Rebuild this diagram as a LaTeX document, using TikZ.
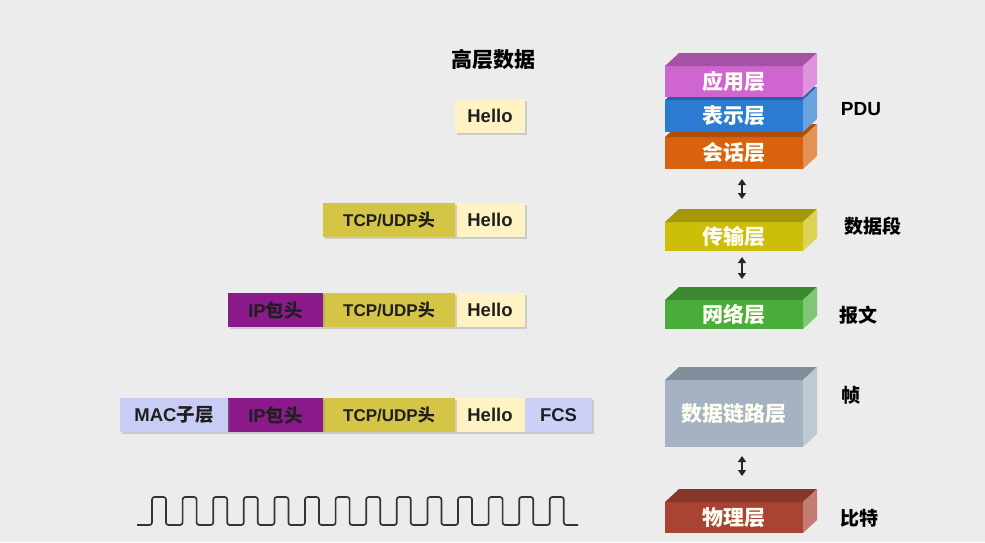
\documentclass[tikz,border=0pt]{standalone}
\usepackage{fontspec}
\setmainfont{Liberation Sans}
\newfontfamily\cjk{Noto Sans CJK SC}
\usetikzlibrary{positioning,arrows.meta,shadows}
\definecolor{bgc}{HTML}{ECECEC}
\definecolor{appc}{HTML}{CF66CF}
\definecolor{prec}{HTML}{2C7BD2}
\definecolor{sesc}{HTML}{D8620E}
\definecolor{trnc}{HTML}{CDBE0A}
\definecolor{netc}{HTML}{4AAD3B}
\definecolor{dllc}{HTML}{A4B2C1}
\definecolor{phyc}{HTML}{A94434}
\definecolor{helc}{HTML}{FFF2C4}
\definecolor{tcpc}{HTML}{D5C547}
\definecolor{ipc}{HTML}{8A1A8A}
\definecolor{macc}{HTML}{C9CCF5}
\definecolor{fcsc}{HTML}{CDD1F8}

\begin{document}
\begin{tikzpicture}[x=1pt, y=-1pt,
  layer/.style={minimum width=138, inner sep=0, outer sep=0, text=white!95!yellow,
    font=\bfseries\fontsize{21}{24}\selectfont\cjk},
  pkt/.style={minimum height=34, inner sep=0, outer sep=0, text=black!88,
    font=\bfseries\fontsize{18.5}{20}\selectfont,
    drop shadow={shadow xshift=1.5pt, shadow yshift=-1.5pt, opacity=.3}},
  tag/.style={font=\bfseries\fontsize{19}{22}\selectfont},
  updn/.style={{Triangle[length=6pt,width=8pt]}-{Triangle[length=6pt,width=8pt]},
    line width=2.2pt, black!85}]
\useasboundingbox (0,0) rectangle (985,542);
\fill[bgc] (0,0) rectangle (985,542);
% layers (drawn bottom of the stack first)
\foreach \n/\y/\h/\c/\t in {ses/153/32/sesc/会话层, pre/116/32/prec/表示层, app/81.5/31/appc/应用层,
                           trn/236.5/29/trnc/传输层, net/314.5/29/netc/网络层,
                           dll/413.5/67/dllc/数据链路层, phy/517.5/31/phyc/物理层} {
  \node[layer, fill=\c, minimum height=\h] (\n) at (734,\y) {\t};
  \fill[\c!80!black] (\n.north west) -- ++(14,-13) -- ++(138,0) -- (\n.north east) -- cycle;
  \fill[\c!70!white] (\n.north east) -- ++(14,-13) -- ++(0,\h) -- (\n.south east) -- cycle;
}
\draw[updn, shorten <=10pt, shorten >=23pt] ([xshift=8pt]ses.south) -- ([xshift=8pt]trn.north);
\draw[updn, shorten <=6pt, shorten >=21pt] ([xshift=8pt]trn.south) -- ([xshift=8pt]net.north);
\draw[updn, shorten <=9pt, shorten >=26pt] ([xshift=8pt]dll.south) -- ([xshift=8pt]phy.north);
% PDU names
\node[tag] (pdu) at (861,109) {PDU};
\node[tag] (seg) at (873,226) {\cjk 数据段};
\node[tag] (pkg) at (858,315) {\cjk 报文};
\node[tag] (frm) at (851,395) {\cjk 帧};
\node[tag] (bit) at (859,518) {\cjk 比特};
% packets
\node[font=\bfseries\fontsize{21}{24}\selectfont\cjk] (top) at (493,60) {高层数据};
\node[pkt, fill=helc, minimum width=70] (h1) at (490,116) {Hello};
\node[pkt, fill=helc, minimum width=70] (h2) at (490,220) {Hello};
\node[pkt, fill=tcpc, minimum width=132, left=0pt of h2, font=\bfseries\fontsize{17}{20}\selectfont] (t2) {TCP/UDP{\cjk 头}};
\node[pkt, fill=helc, minimum width=70] (h3) at (490,310) {Hello};
\node[pkt, fill=tcpc, minimum width=132, left=0pt of h3, font=\bfseries\fontsize{17}{20}\selectfont] (t3) {TCP/UDP{\cjk 头}};
\node[pkt, fill=ipc, minimum width=95, left=0pt of t3] (i3) {IP{\cjk 包头}};
\node[pkt, fill=helc, minimum width=70] (h4) at (490,415) {Hello};
\node[pkt, fill=tcpc, minimum width=132, left=0pt of h4, font=\bfseries\fontsize{17}{20}\selectfont] (t4) {TCP/UDP{\cjk 头}};
\node[pkt, fill=ipc, minimum width=95, left=0pt of t4] (i4) {IP{\cjk 包头}};
\node[pkt, fill=macc, minimum width=108, left=0pt of i4] (m4) {MAC{\cjk 子层}};
\node[pkt, fill=fcsc, minimum width=67, right=0pt of h4] (f4) {FCS};
% bits
\draw[line width=1.7pt, black!80, rounded corners=2.5pt] (137,525)
  \foreach \i in {0,...,13} { -- ({152+30.6*\i},525) -- ++(0,-28) -- ++(14,0) -- ++(0,28) } -- (578,525);
\end{tikzpicture}
\end{document}
